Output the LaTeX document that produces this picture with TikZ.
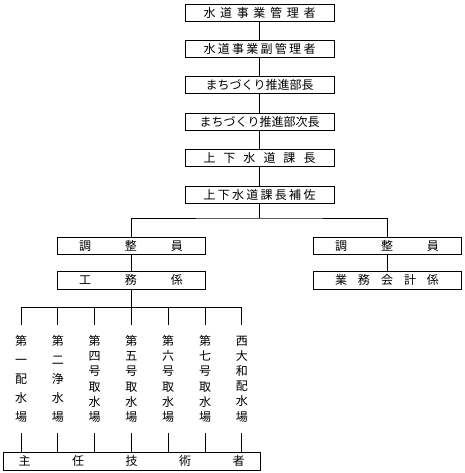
\documentclass[tikz,border=0pt]{standalone}
\usepackage{fontspec}
\setmainfont{Noto Sans CJK JP}
\usetikzlibrary{positioning}

\newcommand{\spreadtext}[2]{\makebox[#1][s]{#2}}

\tikzset{
  orgbox/.style={draw, line width=0.8pt, minimum width=149pt, minimum height=17pt,
    inner sep=0pt, font=\fontsize{12pt}{14pt}\selectfont},
  midbox/.style={orgbox, minimum width=148pt},
  colbox/.style={inner sep=0pt, minimum height=108pt, align=center},
  link/.style={line width=0.8pt}
}

\begin{document}
\begin{tikzpicture}[x=1pt, y=-1pt, node distance=18.6pt]
  \useasboundingbox (0,0) rectangle (464,473);

  % Top chain
  \node[orgbox] (kanri) at (259.5,12.5) {\spreadtext{112pt}{水 道 事 業 管 理 者}};
  \node[orgbox, below=of kanri]  (fuku)   {\spreadtext{112pt}{水 道 事 業 副 管 理 者}};
  \node[orgbox, below=of fuku]   (buchou) {まちづくり推進部長};
  \node[orgbox, below=of buchou] (jichou) {まちづくり推進部次長};
  \node[orgbox, below=of jichou] (kachou) {\spreadtext{112pt}{上 下 水 道 課 長}};
  \node[orgbox, below=of kachou] (hosa)   {\spreadtext{112pt}{上 下 水 道 課 長 補 佐}};

  % Two branches
  \coordinate (split) at (259.5,218);
  \node[midbox] (chouL)  at (131,245.5) {\spreadtext{104pt}{調 整 員}};
  \node[midbox] (chouR)  at (387,245.5) {\spreadtext{104pt}{調 整 員}};
  \node[midbox, minimum height=18pt] (koumu)  at (131,280) {\spreadtext{104pt}{工 務 係}};
  \node[midbox, minimum height=18pt] (gyoumu) at (387,280) {\spreadtext{104pt}{業 務 会 計 係}};

  % Stations
  \coordinate (bus) at (131,307);
  \foreach \i/\gap/\txt in {1/19/{第\\一\\配\\水\\場},
                            2/19/{第\\二\\浄\\水\\場},
                            3/15.2/{第\\四\\号\\取\\水\\場},
                            4/15.2/{第\\五\\号\\取\\水\\場},
                            5/15.2/{第\\六\\号\\取\\水\\場},
                            6/15.2/{第\\七\\号\\取\\水\\場},
                            7/15.2/{西\\大\\和\\配\\水\\場}}
    \node[colbox, font=\fontsize{12pt}{\gap pt}\selectfont] (col\i) at ({21+36.8*(\i-1)},379) {\txt};

  \node[orgbox, minimum width=257pt, minimum height=18pt] (shunin) at (131.5,461)
    {\spreadtext{226pt}{主 任 技 術 者}};

  % Connectors
  \foreach \a/\b in {kanri/fuku, fuku/buchou, buchou/jichou, jichou/kachou, kachou/hosa}
    \draw[link] (\a) -- (\b);
  \draw[link] (hosa) -- (split);
  \draw[link] (chouL) |- (split) -| (chouR);
  \draw[link] (chouL) -- (koumu);
  \draw[link] (chouR) -- (gyoumu);
  \draw[link] (koumu) -- (bus);
  \draw[link] (col1.north |- bus) -- (col7.north |- bus);
  \foreach \i in {1,...,7} {
    \draw[link] (col\i.north |- bus) -- (col\i.north);
    \draw[link] (col\i.south) -- (col\i.south |- shunin.north);
  }
\end{tikzpicture}
\end{document}
